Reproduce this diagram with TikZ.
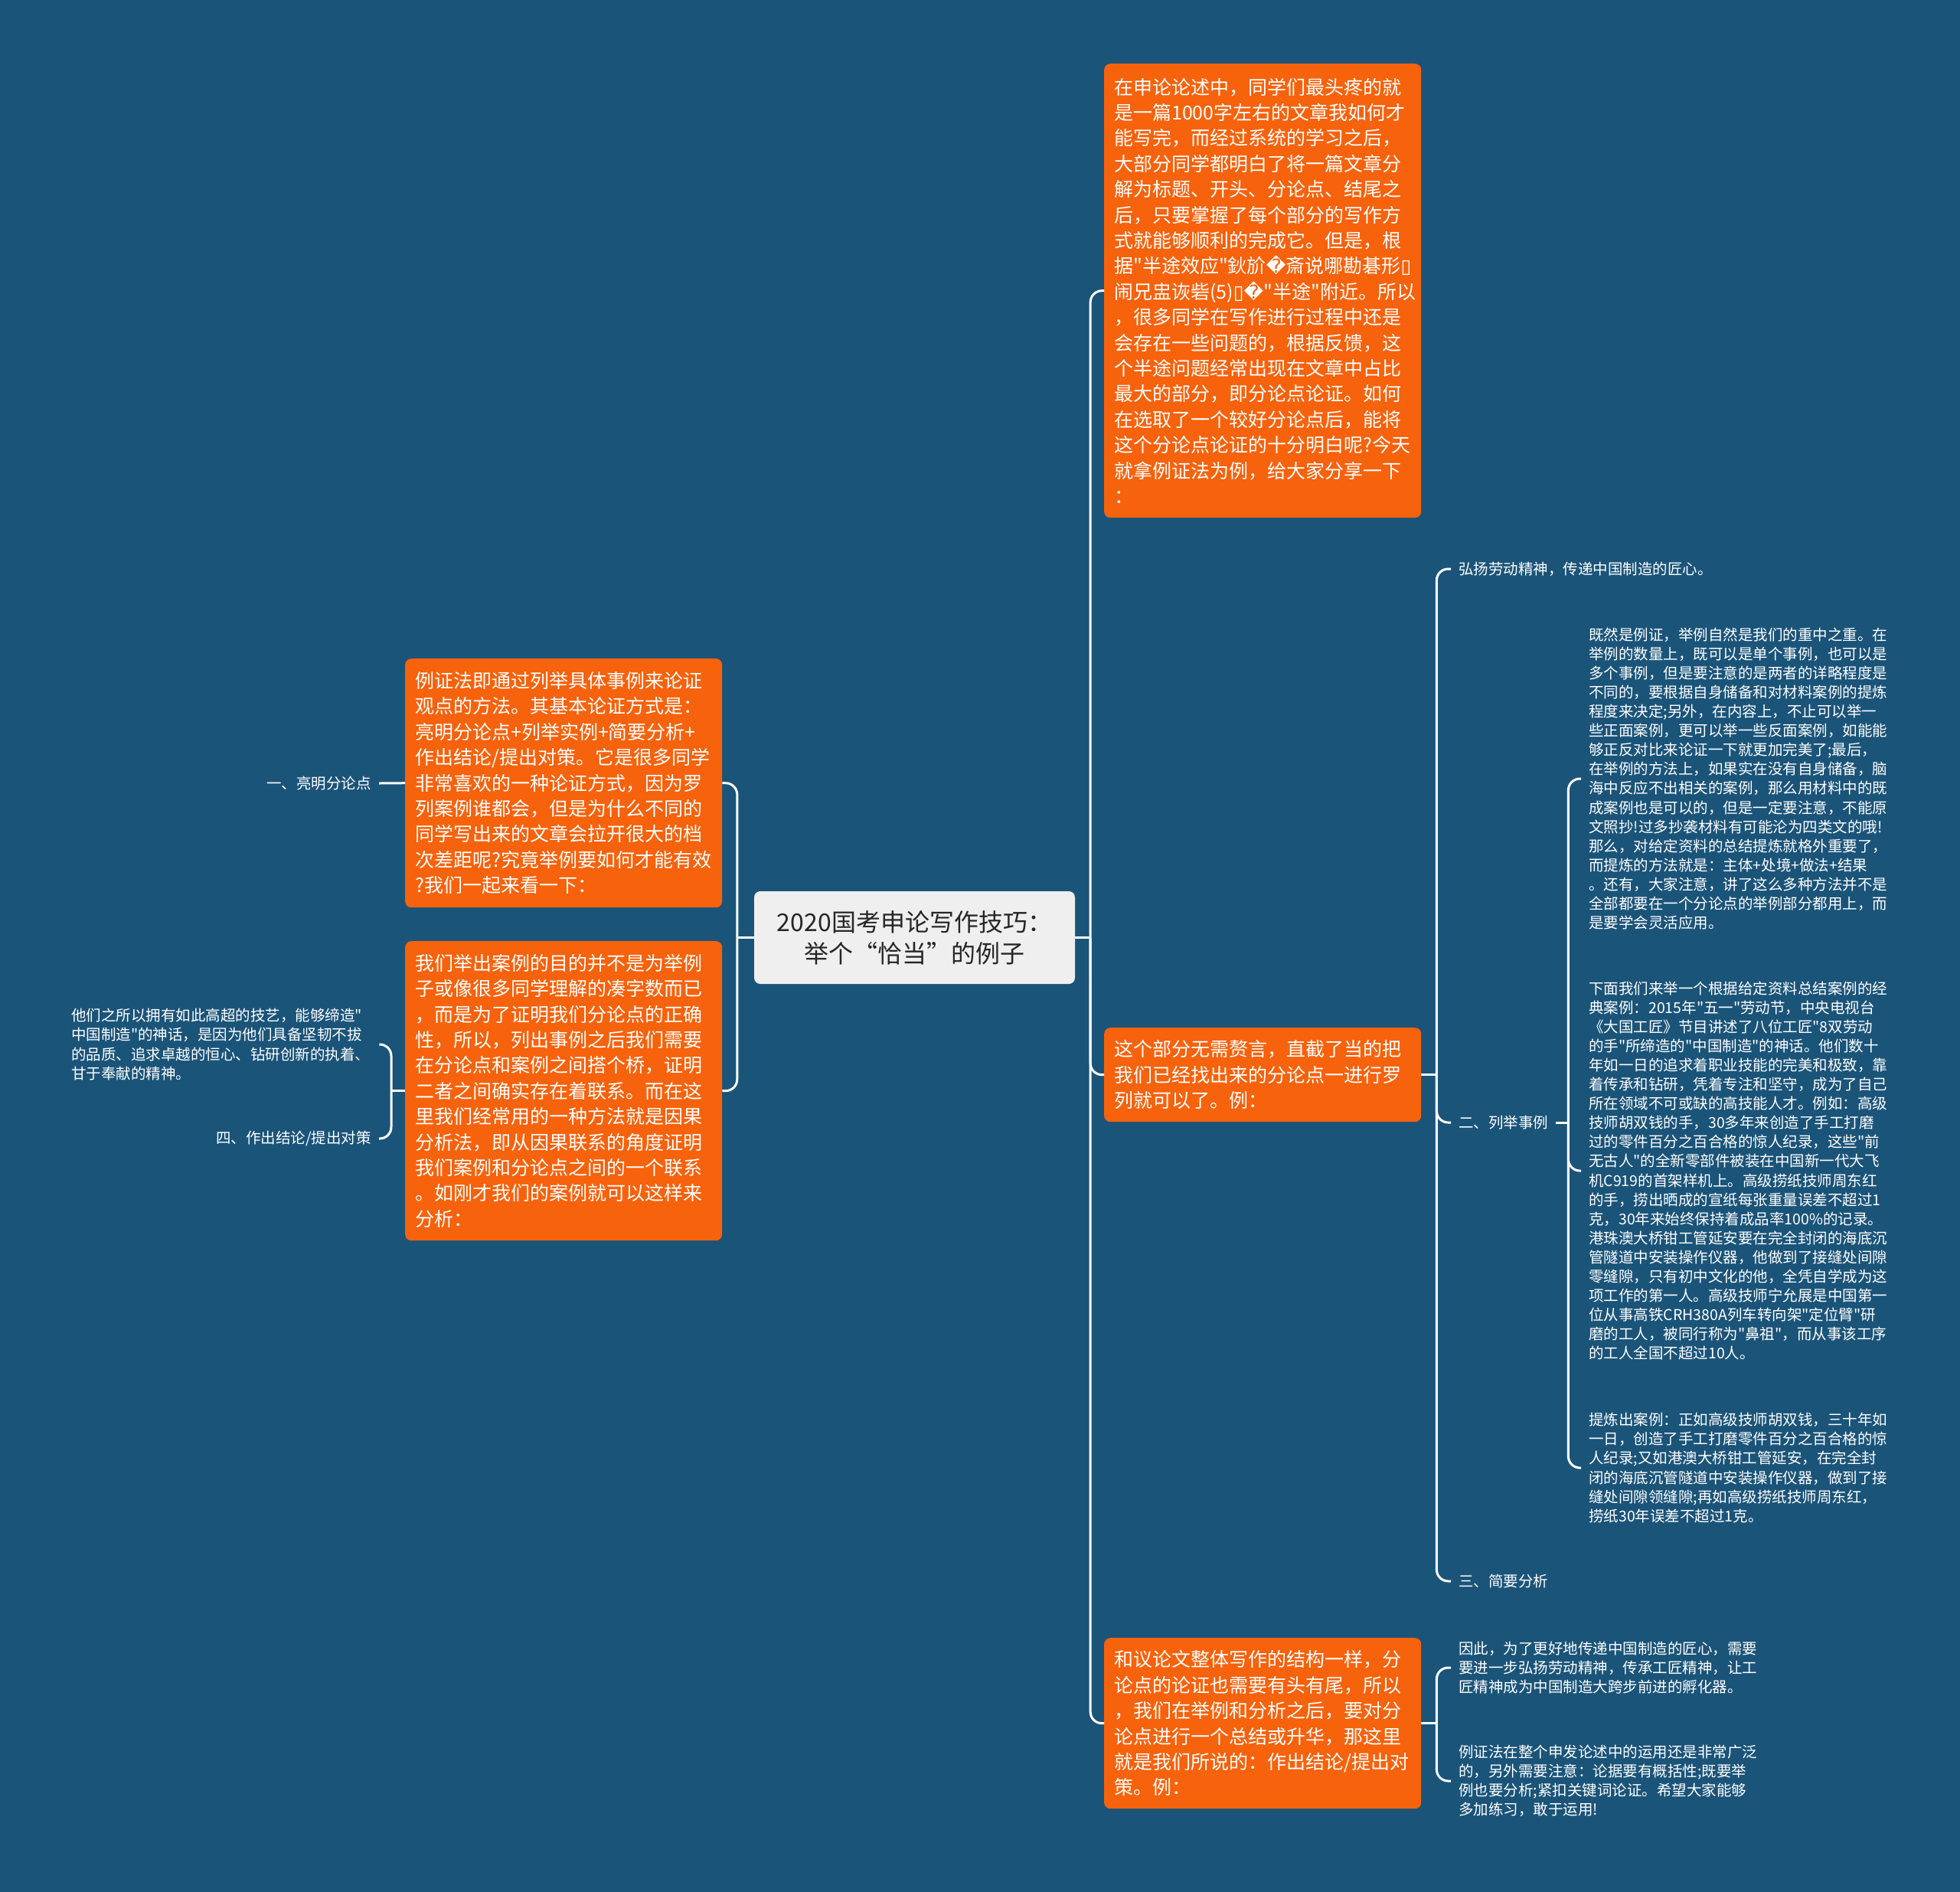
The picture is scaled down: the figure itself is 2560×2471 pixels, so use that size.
\documentclass[tikz,border=0pt]{standalone}
\usepackage{fontspec}
\newfontfamily\cjk{Noto Sans CJK SC}
\newfontfamily\dvs{DejaVu Sans}
\definecolor{bg}{RGB}{27,84,121}
\definecolor{org}{RGB}{247,98,12}
\definecolor{ctr}{RGB}{239,239,239}
\tikzset{
  obox/.style={fill=org, rounded corners=8pt, text=white, font=\cjk\fontsize{25}{33.4}\selectfont,
    align=left, text width=388pt, inner xsep=13pt, inner ysep=0pt, anchor=north west},
  stxt/.style={text=white, font=\cjk\fontsize{19.5}{25.1}\selectfont, align=left, inner xsep=10pt, inner ysep=0pt},
  conn/.style={draw=white, line width=3pt, rounded corners=15pt},
}
\begin{document}
\begin{tikzpicture}[x=1pt,y=-1pt]
\fill[bg] (0,0) rectangle (2560,2471);
\useasboundingbox (0,0) rectangle (2560,2471);

% centre
\node[fill=ctr, rounded corners=8pt, minimum width=419pt, minimum height=121pt,
  font=\cjk\fontsize{32}{41}\selectfont, align=center, text=black!85, inner sep=0pt]
  (c) at (1194.5,1224.5) {2020国考申论写作技巧：\\%
举个“恰当”的例子};

% orange boxes
\node[obox, minimum height=593pt] (tr) at (1442,83) {在申论论述中，同学们最头疼的就\\%
是一篇1000字左右的文章我如何才\\%
能写完，而经过系统的学习之后，\\%
大部分同学都明白了将一篇文章分\\%
解为标题、开头、分论点、结尾之\\%
后，只要掌握了每个部分的写作方\\%
式就能够顺利的完成它。但是，根\\%
据"半途效应"鈥斺{\dvs �}斎说哪勘碁形{\dvs ▯}\\%
闹兄盅诙砦(5){\dvs ▯}{\dvs �}"半途"附近。所以\\%
，很多同学在写作进行过程中还是\\%
会存在一些问题的，根据反馈，这\\%
个半途问题经常出现在文章中占比\\%
最大的部分，即分论点论证。如何\\%
在选取了一个较好分论点后，能将\\%
这个分论点论证的十分明白呢?今天\\%
就拿例证法为例，给大家分享一下\\%
：};

\node[obox, minimum height=325pt] (lt) at (529,860) {例证法即通过列举具体事例来论证\\%
观点的方法。其基本论证方式是：\\%
亮明分论点+列举实例+简要分析+\\%
作出结论/提出对策。它是很多同学\\%
非常喜欢的一种论证方式，因为罗\\%
列案例谁都会，但是为什么不同的\\%
同学写出来的文章会拉开很大的档\\%
次差距呢?究竟举例要如何才能有效\\%
?我们一起来看一下：};

\node[obox, minimum height=391pt] (lb) at (529,1229) {我们举出案例的目的并不是为举例\\%
子或像很多同学理解的凑字数而已\\%
，而是为了证明我们分论点的正确\\%
性，所以，列出事例之后我们需要\\%
在分论点和案例之间搭个桥，证明\\%
二者之间确实存在着联系。而在这\\%
里我们经常用的一种方法就是因果\\%
分析法，即从因果联系的角度证明\\%
我们案例和分论点之间的一个联系\\%
。如刚才我们的案例就可以这样来\\%
分析：};

\node[obox, minimum height=123pt] (rm) at (1442,1342) {这个部分无需赘言，直截了当的把\\%
我们已经找出来的分论点一进行罗\\%
列就可以了。例：};

\node[obox, minimum height=223pt] (rb) at (1442,2139) {和议论文整体写作的结构一样，分\\%
论点的论证也需要有头有尾，所以\\%
，我们在举例和分析之后，要对分\\%
论点进行一个总结或升华，那这里\\%
就是我们所说的：作出结论/提出对\\%
策。例：};

% left leaves
\node[stxt, anchor=east] (l1) at (495,1023) {一、亮明分论点};
\node[stxt, anchor=east] (l4) at (495,1487) {四、作出结论/提出对策};
\node[stxt, anchor=west, text width=392pt] (lw) at (83,1364) {他们之所以拥有如此高超的技艺，能够缔造"\\%
中国制造"的神话，是因为他们具备坚韧不拔\\%
的品质、追求卓越的恒心、钻研创新的执着、\\%
甘于奉献的精神。};

% right leaves
\node[stxt, anchor=west] (r1) at (1895,743) {弘扬劳动精神，传递中国制造的匠心。};
\node[stxt, anchor=west] (r2) at (1895,1466) {二、列举事例};
\node[stxt, anchor=west] (r3) at (1895,2065) {三、简要分析};

\node[stxt, anchor=west] (t1) at (2065,1017) {既然是例证，举例自然是我们的重中之重。在\\%
举例的数量上，既可以是单个事例，也可以是\\%
多个事例，但是要注意的是两者的详略程度是\\%
不同的，要根据自身储备和对材料案例的提炼\\%
程度来决定;另外，在内容上，不止可以举一\\%
些正面案例，更可以举一些反面案例，如能能\\%
够正反对比来论证一下就更加完美了;最后，\\%
在举例的方法上，如果实在没有自身储备，脑\\%
海中反应不出相关的案例，那么用材料中的既\\%
成案例也是可以的，但是一定要注意，不能原\\%
文照抄!过多抄袭材料有可能沦为四类文的哦!\\%
那么，对给定资料的总结提炼就格外重要了，\\%
而提炼的方法就是：主体+处境+做法+结果\\%
。还有，大家注意，讲了这么多种方法并不是\\%
全部都要在一个分论点的举例部分都用上，而\\%
是要学会灵活应用。};

\node[stxt, anchor=west] (t2) at (2065,1529) {下面我们来举一个根据给定资料总结案例的经\\%
典案例：2015年"五一"劳动节，中央电视台\\%
《大国工匠》节目讲述了八位工匠"8双劳动\\%
的手"所缔造的"中国制造"的神话。他们数十\\%
年如一日的追求着职业技能的完美和极致，靠\\%
着传承和钻研，凭着专注和坚守，成为了自己\\%
所在领域不可或缺的高技能人才。例如：高级\\%
技师胡双钱的手，30多年来创造了手工打磨\\%
过的零件百分之百合格的惊人纪录，这些"前\\%
无古人"的全新零部件被装在中国新一代大飞\\%
机C919的首架样机上。高级捞纸技师周东红\\%
的手，捞出晒成的宣纸每张重量误差不超过1\\%
克，30年来始终保持着成品率100\%的记录。\\%
港珠澳大桥钳工管延安要在完全封闭的海底沉\\%
管隧道中安装操作仪器，他做到了接缝处间隙\\%
零缝隙，只有初中文化的他，全凭自学成为这\\%
项工作的第一人。高级技师宁允展是中国第一\\%
位从事高铁CRH380A列车转向架"定位臂"研\\%
磨的工人，被同行称为"鼻祖"，而从事该工序\\%
的工人全国不超过10人。};

\node[stxt, anchor=west] (t3) at (2065,1917) {提炼出案例：正如高级技师胡双钱，三十年如\\%
一日，创造了手工打磨零件百分之百合格的惊\\%
人纪录;又如港澳大桥钳工管延安，在完全封\\%
闭的海底沉管隧道中安装操作仪器，做到了接\\%
缝处间隙领缝隙;再如高级捞纸技师周东红，\\%
捞纸30年误差不超过1克。};

\node[stxt, anchor=west] (b1) at (1895,2178) {因此，为了更好地传递中国制造的匠心，需要\\%
要进一步弘扬劳动精神，传承工匠精神，让工\\%
匠精神成为中国制造大跨步前进的孵化器。};

\node[stxt, anchor=west] (b2) at (1895,2326) {例证法在整个申发论述中的运用还是非常广泛\\%
的，另外需要注意：论据要有概括性;既要举\\%
例也要分析;紧扣关键词论证。希望大家能够\\%
多加练习，敢于运用!};

% connectors
\draw[conn] (c.east) -- ++(20,0) coordinate (jc);
\draw[conn] (jc) |- (tr.west);
\draw[conn] (jc) |- (rm.west);
\draw[conn] (jc) |- (rb.west);

\draw[conn] (c.west) -- ++(-22,0) coordinate (jl);
\draw[conn] (jl) |- (lt.east);
\draw[conn] (jl) |- (lb.east);

\draw[conn] (lt.west) -- (l1.east);
\draw[conn] (lb.west) -- ++(-18,0) coordinate (jlb);
\draw[conn] (jlb) |- (lw.east);
\draw[conn] (jlb) |- (l4.east);

\draw[conn] (rm.east) -- ++(20,0) coordinate (jm);
\draw[conn] (jm) |- (r1.west);
\draw[conn] (jm) |- (r2.west);
\draw[conn] (jm) |- (r3.west);

\draw[conn] (r2.east) -- ++(16,0) coordinate (j2);
\draw[conn] (j2) |- (t1.west);
\draw[conn] (j2) |- (t2.west);
\draw[conn] (j2) |- (t3.west);

\draw[conn] (rb.east) -- ++(20,0) coordinate (jb);
\draw[conn] (jb) |- (b1.west);
\draw[conn] (jb) |- (b2.west);
\end{tikzpicture}
\end{document}
